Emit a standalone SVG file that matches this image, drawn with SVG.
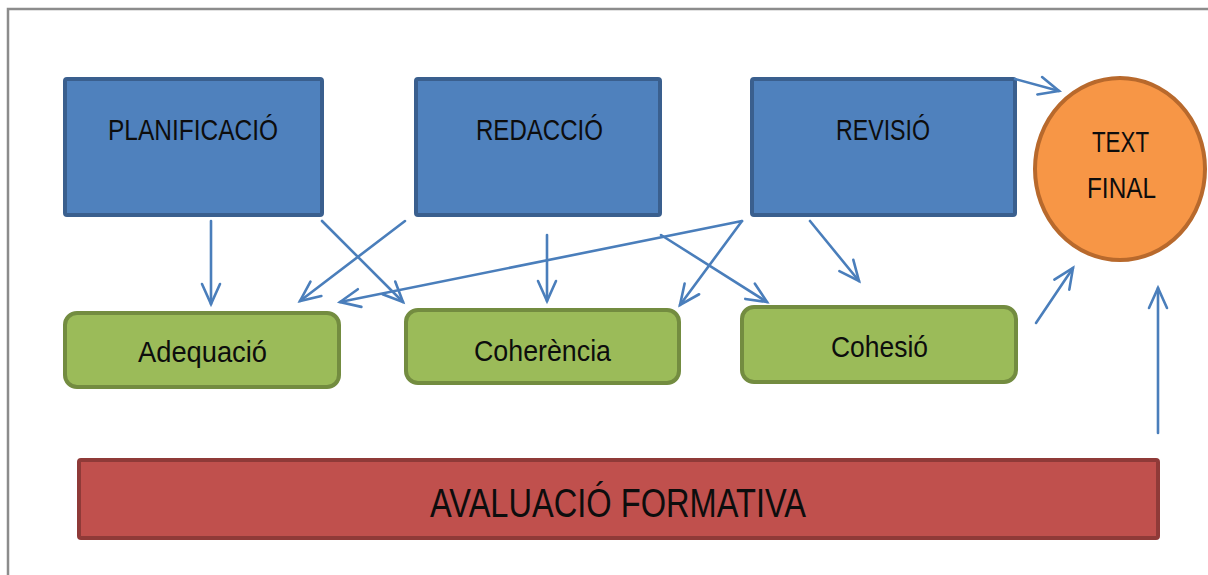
<svg xmlns="http://www.w3.org/2000/svg" width="1208" height="575" viewBox="0 0 1208 575">
<defs>
<style>
.frame{fill:none;stroke:#8c8c8c;stroke-width:2.5}
.blue{fill:#4f81bd;stroke:#3a5f8e;stroke-width:4}
.green{fill:#9bbb59;stroke:#738c40;stroke-width:4}
.red{fill:#c0504d;stroke:#8f3a38;stroke-width:4}
.orange{fill:#f79646;stroke:#b8692c;stroke-width:4}
.t{font-family:"Liberation Sans",Arial,sans-serif;fill:#0d0d0d;text-anchor:start}
.c{fill:none;stroke:#4a7ebb;stroke-width:2.6;stroke-linecap:round;marker-end:url(#ah)}
</style>
<marker id="ah" markerUnits="userSpaceOnUse" markerWidth="30" markerHeight="26" viewBox="0 0 30 26" refX="23" refY="13" orient="auto" overflow="visible">
<path d="M3,4 L23,13 L3,22" fill="none" stroke="#4a7ebb" stroke-width="2.6" stroke-linecap="round" stroke-linejoin="miter"/>
</marker>
</defs>
<rect width="1208" height="575" fill="#ffffff"/>
<path class="frame" d="M8,575 L8,9 L1208,9"/>

<g id="planificacio">
<rect class="blue" x="65" y="79" width="257" height="136" rx="2"/>
<text class="t" x="108" y="140" font-size="30" textLength="170" lengthAdjust="spacingAndGlyphs">PLANIFICACIÓ</text>
</g>
<g id="redaccio">
<rect class="blue" x="416" y="79" width="244" height="136" rx="2"/>
<text class="t" x="476" y="140" font-size="30" textLength="127" lengthAdjust="spacingAndGlyphs">REDACCIÓ</text>
</g>
<g id="revisio">
<rect class="blue" x="752" y="79" width="263" height="136" rx="2"/>
<text class="t" x="836" y="140" font-size="30" textLength="94" lengthAdjust="spacingAndGlyphs">REVISIÓ</text>
</g>
<g id="text-final">
<ellipse class="orange" cx="1120" cy="169" rx="85" ry="91"/>
<text class="t" x="1092" y="152" font-size="30" textLength="57" lengthAdjust="spacingAndGlyphs">TEXT</text>
<text class="t" x="1087" y="198" font-size="30" textLength="69" lengthAdjust="spacingAndGlyphs">FINAL</text>
</g>
<g id="adequacio">
<rect class="green" x="65" y="313" width="274" height="74" rx="12"/>
<text class="t" x="138" y="362" font-size="30" textLength="129" lengthAdjust="spacingAndGlyphs">Adequació</text>
</g>
<g id="coherencia">
<rect class="green" x="406" y="310" width="273" height="73" rx="12"/>
<text class="t" x="474" y="361" font-size="30" textLength="137" lengthAdjust="spacingAndGlyphs">Coherència</text>
</g>
<g id="cohesio">
<rect class="green" x="742" y="307" width="274" height="75" rx="12"/>
<text class="t" x="831" y="357" font-size="30" textLength="97" lengthAdjust="spacingAndGlyphs">Cohesió</text>
</g>
<g id="avaluacio-formativa">
<rect class="red" x="79" y="460" width="1079" height="78" rx="2"/>
<text class="t" x="430" y="517" font-size="40" textLength="376" lengthAdjust="spacingAndGlyphs">AVALUACIÓ FORMATIVA</text>
</g>

<g id="connectors">
<line class="c" x1="211" y1="221" x2="211" y2="304"/>
<line class="c" x1="322" y1="221" x2="403" y2="302"/>
<line class="c" x1="405" y1="221" x2="300" y2="301"/>
<line class="c" x1="547" y1="235" x2="547" y2="301"/>
<line class="c" x1="742" y1="221" x2="340" y2="302"/>
<line class="c" x1="742" y1="221" x2="680" y2="305"/>
<line class="c" x1="661" y1="235" x2="767" y2="302"/>
<line class="c" x1="810" y1="221" x2="859" y2="281"/>
<line class="c" x1="1015" y1="79" x2="1059" y2="91"/>
<line class="c" x1="1036" y1="323" x2="1073" y2="268"/>
<line class="c" x1="1158" y1="433" x2="1158" y2="288"/>
</g>
</svg>
